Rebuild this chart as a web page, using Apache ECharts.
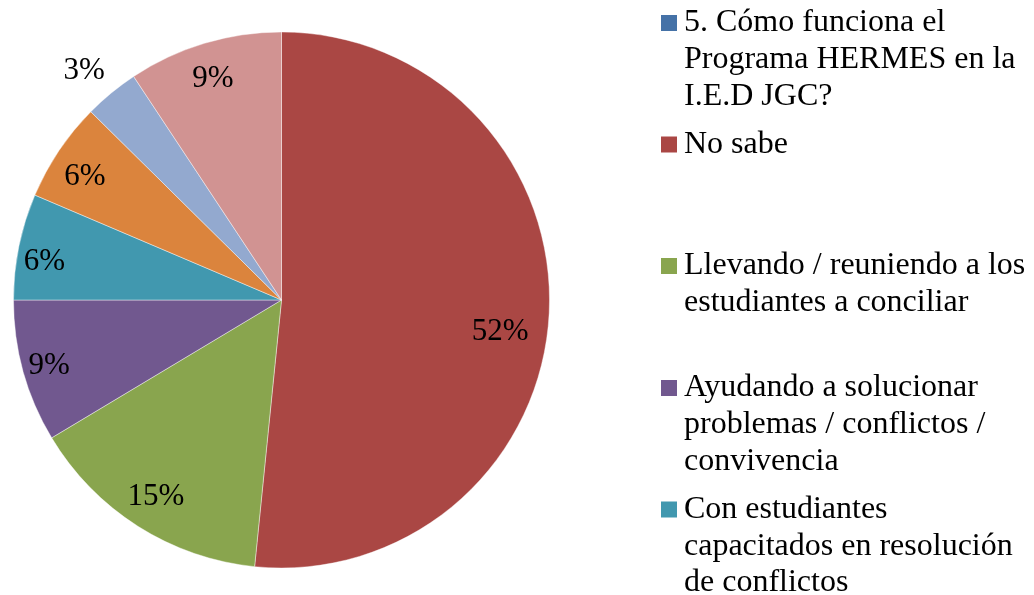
<!DOCTYPE html>
<html>
<head>
<meta charset="utf-8">
<script src="https://cdn.jsdelivr.net/npm/echarts@6/dist/echarts.min.js"></script>
<style>
  html, body { margin: 0; padding: 0; background: #fff; }
  #chart { width: 1034px; height: 595px; }
</style>
</head>
<body>
<div id="chart"></div>
<script>
// categories (legend text keeps its line breaks)
const categories = [
  '5. Cómo funciona el\nPrograma HERMES en la\nI.E.D JGC?',
  'No sabe',
  'Llevando / reuniendo a los\nestudiantes a conciliar',
  'Ayudando a solucionar\nproblemas / conflictos /\nconvivencia',
  'Con estudiantes\ncapacitados en resolución\nde conflictos',
  'Otra respuesta 1',
  'Otra respuesta 2',
  'Otra respuesta 3'
]
// share of answers in percent (first row is the question header)
const values = [0, 51.6, 14.8, 8.6, 6.4, 6.0, 3.3, 9.3]
const colors = ['#4572A7', '#AA4744', '#89A54E', '#71588F', '#4198AF', '#DB843D', '#93A9CF', '#D19392']

// legend layout: only the first five entries fit in the picture
const legendIconY = [23, 144.5, 266, 388, 509.5]
const LH = 36.7
const FONT = "'Liberation Serif', 'Times New Roman', serif"

// small nudges so labels sit where the original tool put them
const labelNudge = [null, [-19, 20], [2, -4], [-3, 2], [-4, 9], [1, 9], null, [0, 7]]

const chart = echarts.init(document.getElementById('chart'))

const pieData = categories.map((name, i) => ({
  name: name,
  value: values[i],
  itemStyle: { color: colors[i] }
}))

const labelData = categories.map((name, i) => {
  const item = { name: name, value: values[i] }
  if (values[i] === 0) item.label = { show: false }
  else if (labelNudge[i]) item.label = { offset: labelNudge[i] }
  if (i === 6) {
    item.label = { position: 'outside', distanceToLabelLine: 5 }
    item.labelLine = { show: false, length: 29, length2: -17 }
  }
  return item
})

const legends = legendIconY.map((y, i) => {
  const n = categories[i].split('\n').length
  return {
    data: [categories[i]],
    left: 661,
    top: y - (2 * n - 1) * LH / 2,
    padding: 0,
    itemWidth: 16,
    itemHeight: 16,
    icon: 'rect',
    selectedMode: false,
    itemStyle: { borderWidth: 0 },
    formatter: name => '\n'.repeat(name.split('\n').length - 1) + name,
    textStyle: {
      fontFamily: FONT,
      fontSize: 32,
      lineHeight: LH,
      color: '#000',
      padding: [0, 0, 0, 2]
    }
  }
})

const option = {
  animation: false,
  legend: legends,
  series: [
    {
      type: 'pie',
      center: [281.5, 300],
      radius: [0, 268],
      startAngle: 90,
      clockwise: true,
      silent: true,
      label: { show: false },
      labelLine: { show: false },
      itemStyle: { borderColor: 'rgba(255,255,255,0.7)', borderWidth: 0.6 },
      data: pieData
    },
    {
      // transparent ring that only carries the percentage labels
      type: 'pie',
      center: [281.5, 300],
      radius: [202, 268],
      startAngle: 90,
      clockwise: true,
      silent: true,
      avoidLabelOverlap: false,
      itemStyle: { color: 'rgba(0,0,0,0)', borderWidth: 0 },
      label: {
        show: true,
        position: 'inside',
        rotate: 0,
        formatter: p => Math.round(p.value) + '%',
        fontFamily: FONT,
        fontSize: 31,
        color: '#000',
        textBorderWidth: 0
      },
      labelLine: { show: false },
      data: labelData
    }
  ]
}

chart.setOption(option)
</script>
</body>
</html>
